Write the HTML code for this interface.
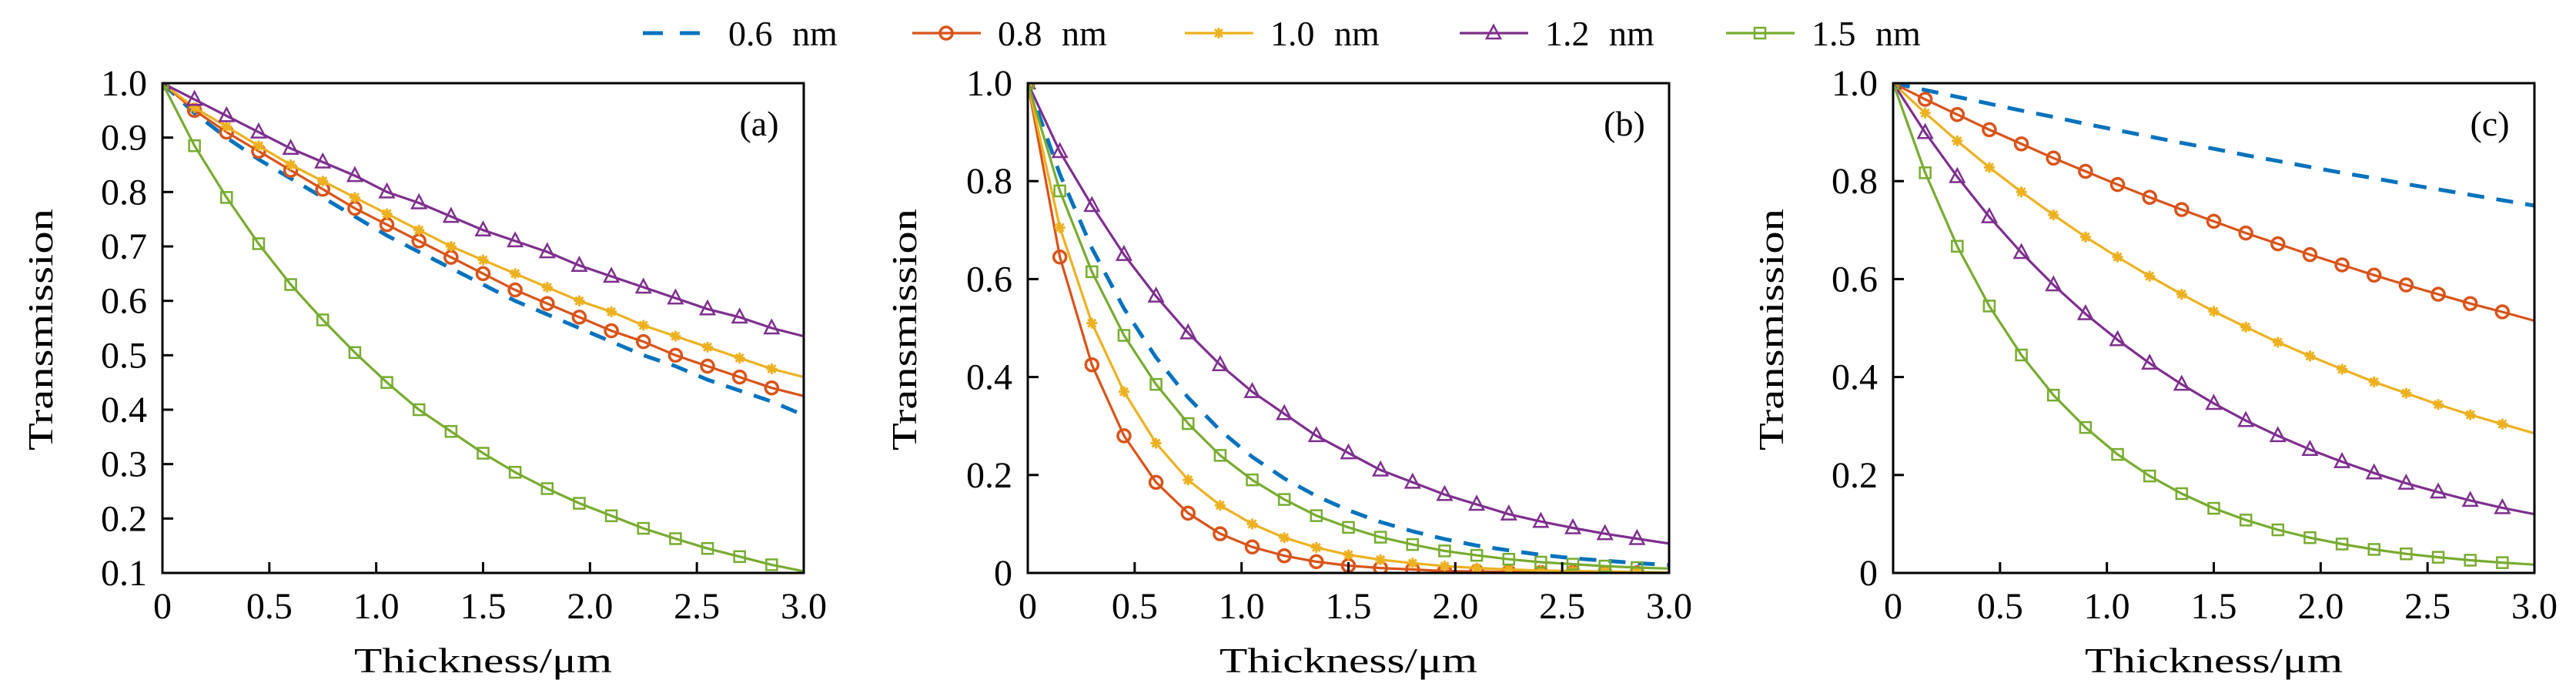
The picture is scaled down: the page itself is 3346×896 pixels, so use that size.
<!DOCTYPE html>
<html><head><meta charset="utf-8"><style>
html,body{margin:0;padding:0;background:#fff;}
svg{display:block;font-family:"Liberation Serif",serif;}
</style></head><body>
<svg id="chart" width="3346" height="896" viewBox="0 0 3346 896" xmlns="http://www.w3.org/2000/svg"></svg>
<script>
const xs = [0,0.15,0.3,0.45,0.6,0.75,0.9,1.05,1.2,1.35,1.5,1.65,1.8,1.95,2.1,2.25,2.4,2.55,2.7,2.85,3.0];
const seriesNames = ["0.6 nm","0.8 nm","1.0 nm","1.2 nm","1.5 nm"];
const xTicks = [0,0.5,1.0,1.5,2.0,2.5,3.0];
const xTickLabels = ["0","0.5","1.0","1.5","2.0","2.5","3.0"];
const yTicksA = [0.1,0.2,0.3,0.4,0.5,0.6,0.7,0.8,0.9,1.0];
const yTickLabelsA = ["0.1","0.2","0.3","0.4","0.5","0.6","0.7","0.8","0.9","1.0"];
const yTicksBC = [0,0.2,0.4,0.6,0.8,1.0];
const yTickLabelsBC = ["0","0.2","0.4","0.6","0.8","1.0"];
// panel (a)
const a06 = [1,0.945,0.90,0.86,0.825,0.79,0.755,0.72,0.69,0.66,0.63,0.60,0.575,0.55,0.525,0.50,0.48,0.455,0.435,0.415,0.39];
const a08 = [1,0.95,0.91,0.875,0.84,0.805,0.77,0.74,0.71,0.68,0.65,0.62,0.595,0.57,0.545,0.525,0.50,0.48,0.46,0.44,0.425];
const a10 = [1,0.955,0.92,0.885,0.85,0.82,0.79,0.76,0.73,0.70,0.675,0.65,0.625,0.60,0.58,0.555,0.535,0.515,0.495,0.475,0.46];
const a12 = [1,0.97,0.94,0.91,0.88,0.855,0.83,0.80,0.78,0.755,0.73,0.71,0.69,0.665,0.645,0.625,0.605,0.585,0.57,0.55,0.535];
const a15 = [1,0.885,0.79,0.705,0.63,0.565,0.505,0.45,0.40,0.36,0.32,0.285,0.255,0.228,0.205,0.182,0.163,0.145,0.13,0.115,0.103];
// panel (b)
const b06 = [1,0.814,0.663,0.540,0.440,0.358,0.291,0.237,0.193,0.157,0.128,0.104,0.085,0.069,0.056,0.046,0.037,0.030,0.025,0.020,0.016];
const b08 = [1,0.645,0.425,0.28,0.185,0.122,0.08,0.053,0.035,0.023,0.015,0.01,0.007,0.004,0.003,0.002,0.001,0.001,0.0005,0.0003,0.0002];
const b10 = [1,0.705,0.51,0.37,0.265,0.19,0.138,0.10,0.072,0.052,0.037,0.027,0.02,0.014,0.01,0.007,0.005,0.004,0.003,0.002,0.001];
const b12 = [1,0.86,0.75,0.65,0.565,0.49,0.425,0.37,0.325,0.28,0.245,0.21,0.185,0.16,0.14,0.12,0.105,0.092,0.08,0.07,0.06];
const b15 = [1,0.78,0.615,0.485,0.385,0.305,0.24,0.19,0.15,0.117,0.093,0.073,0.058,0.045,0.036,0.028,0.022,0.018,0.014,0.011,0.009];
// panel (c)
const c06 = [1,0.986,0.972,0.958,0.944,0.931,0.917,0.904,0.891,0.878,0.866,0.853,0.841,0.829,0.817,0.806,0.794,0.783,0.772,0.761,0.750];
const c08 = [1,0.967,0.936,0.905,0.876,0.847,0.820,0.793,0.767,0.742,0.718,0.694,0.672,0.650,0.629,0.608,0.588,0.569,0.550,0.533,0.515];
const c10 = [1,0.939,0.882,0.828,0.778,0.731,0.686,0.645,0.606,0.569,0.534,0.502,0.471,0.443,0.416,0.390,0.367,0.344,0.323,0.304,0.285];
const c12 = [1,0.899,0.809,0.727,0.654,0.588,0.529,0.476,0.428,0.385,0.346,0.311,0.280,0.252,0.227,0.204,0.183,0.165,0.148,0.133,0.120];
const c15 = [1,0.817,0.667,0.545,0.445,0.363,0.297,0.242,0.198,0.162,0.132,0.108,0.088,0.072,0.059,0.048,0.039,0.032,0.026,0.021,0.017];

const colors = ["#0072BD","#D95319","#EDB120","#7E2F8E","#77AC30"];
const markers = ["none","circle","star","triangle","square"];
const NS = "http://www.w3.org/2000/svg";
const svg = document.getElementById('chart');
function mk(tag, attrs, parent){ const e=document.createElementNS(NS,tag); for(const k in attrs) e.setAttribute(k,attrs[k]); (parent||svg).appendChild(e); return e; }

function drawMarker(g, type, cx, cy, color){
  let m;
  if(type==="circle"){ m=mk('circle',{cx:cx,cy:cy,r:8,fill:'none',stroke:color,'stroke-width':3.5},g); }
  else if(type==="square"){ m=mk('rect',{x:cx-7,y:cy-7,width:14,height:14,fill:'none',stroke:color,'stroke-width':2.5},g); }
  else if(type==="triangle"){ m=mk('polygon',{points:`${cx},${cy-10} ${cx-9},${cy+7} ${cx+9},${cy+7}`,fill:'none',stroke:color,'stroke-width':2.5},g); }
  else if(type==="star"){ m=mk('path',{d:`M${cx-7} ${cy}H${cx+7}M${cx} ${cy-7}V${cy+7}M${cx-5} ${cy-5}L${cx+5} ${cy+5}M${cx-5} ${cy+5}L${cx+5} ${cy-5}`,stroke:color,'stroke-width':3,fill:'none'},g); }
  if(m){   }
}

function panel(id, left, right, top, bottom, ymin, ymax, yTicks, yLabels, data, label, ylabX){
  const g = mk('g',{});
  
  
  const X = v => left + (v-0)/(3-0)*(right-left);
  const Y = v => bottom - (v-ymin)/(ymax-ymin)*(bottom-top);
  const clipId='clip'+id;
  const cp=mk('clipPath',{id:clipId},g); mk('rect',{x:left,y:top,width:right-left,height:bottom-top},cp);
  data.forEach((vals,si)=>{
    const sg=mk('g',{'clip-path':`url(#${clipId})`},g);
    
    
    const pts=xs.map((x,i)=>`${X(x).toFixed(1)},${Y(vals[i]).toFixed(1)}`).join(' ');
    const attrs={points:pts,fill:'none',stroke:colors[si],'stroke-width':si===0?5:3.2,'stroke-linejoin':'round'};
    if(si===0) attrs['stroke-dasharray']='22,16';
    const pl=mk('polyline',attrs,sg);
    
    
    if(markers[si]!=="none"){
      for(let i=0;i<xs.length-1;i++){ drawMarker(sg,markers[si],X(xs[i]),Y(vals[i]),colors[si]); }
    }
  });
  const fr=mk('rect',{x:left,y:top,width:right-left,height:bottom-top,fill:'none',stroke:'#000','stroke-width':3},g);
   
  xTicks.forEach((t,i)=>{
    mk('line',{x1:X(t),x2:X(t),y1:bottom,y2:bottom-14,stroke:'#000','stroke-width':3},g);
    const tx=mk('text',{x:X(t),y:803,'font-size':48,'text-anchor':'middle',fill:'#000'},g);
    tx.textContent=xTickLabels[i];
     
  });
  yTicks.forEach((t,i)=>{
    mk('line',{x1:left,x2:left+14,y1:Y(t),y2:Y(t),stroke:'#000','stroke-width':3},g);
    const tx=mk('text',{x:left-20,y:Y(t)+16,'font-size':48,'text-anchor':'end',fill:'#000'},g);
    tx.textContent=yLabels[i];
     
  });
  const xt=mk('text',{x:(left+right)/2,y:873,'font-size':46,'text-anchor':'middle',textLength:335,lengthAdjust:'spacingAndGlyphs'},g);
  xt.textContent='Thickness/μm';
   
  const yt=mk('text',{x:0,y:0,'font-size':46,'text-anchor':'middle',textLength:314,lengthAdjust:'spacingAndGlyphs',transform:`translate(${ylabX},428) rotate(-90)`},g);
  yt.textContent='Transmission';
   
  const pl=mk('text',{x:right-58,y:176,'font-size':46,'text-anchor':'middle'},g);
  pl.textContent=label;
   
}

panel('a',211,1044,108,744,0.1,1.0,yTicksA,yTickLabelsA,[a06,a08,a10,a12,a15],'(a)',68);
panel('b',1335,2168,108,744,0,1.0,yTicksBC,yTickLabelsBC,[b06,b08,b10,b12,b15],'(b)',1190);
panel('c',2459,3292,108,744,0,1.0,yTicksBC,yTickLabelsBC,[c06,c08,c10,c12,c15],'(c)',2316);

const legX = [835,1185,1539,1896,2242];
const lg=mk('g',{});


seriesNames.forEach((n,i)=>{
  const eg=mk('g',{},lg);
  
  
  const x0=legX[i], y0=43;
  const la={x1:x0,x2:x0+89,y1:y0,y2:y0,stroke:colors[i],'stroke-width':i===0?5:3.2};
  if(i===0) la['stroke-dasharray']='26,22';
  mk('line',la,eg);
  if(markers[i]!=="none") drawMarker(eg,markers[i],x0+44,y0,colors[i]);
  const t=mk('text',{x:x0+111,y:59,'font-size':46,'word-spacing':14},eg);
  t.textContent=n;
});
</script>
</body></html>
